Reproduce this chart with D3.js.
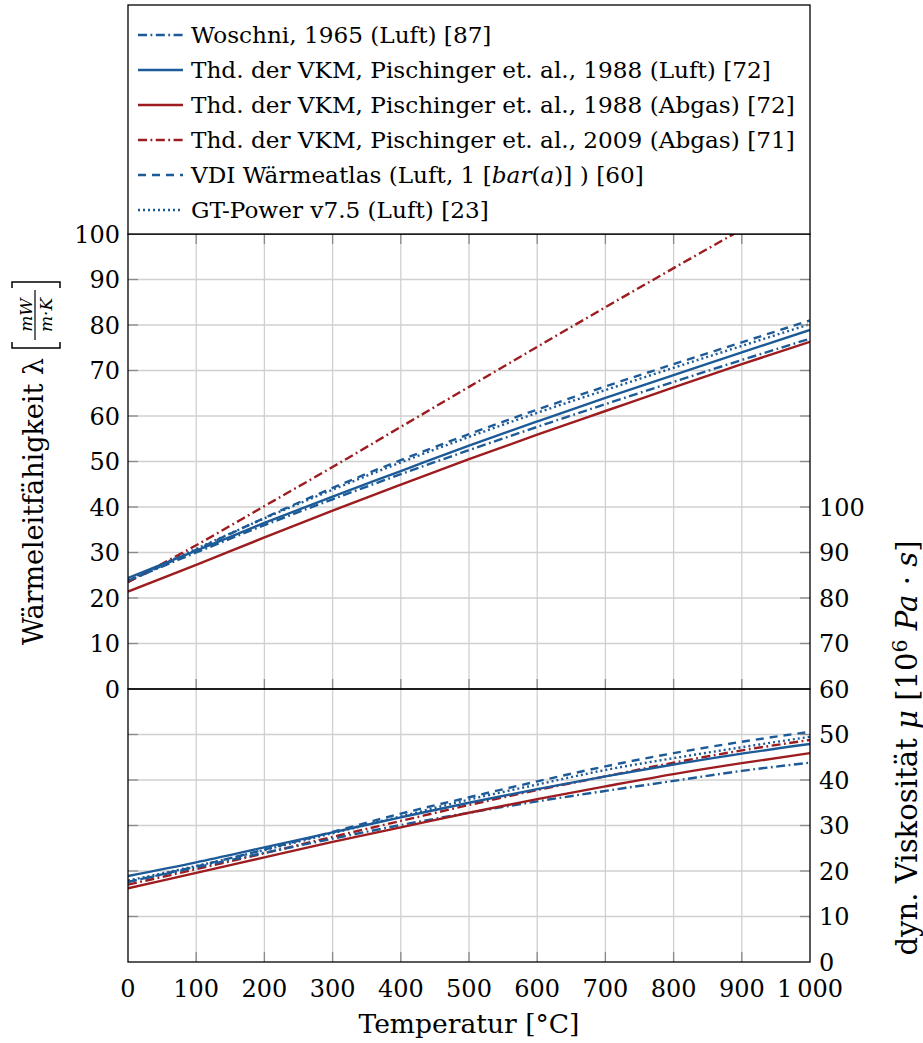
<!DOCTYPE html>
<html>
<head>
<meta charset="utf-8">
<script src="https://cdn.jsdelivr.net/npm/d3@7"></script>
<style>
  body { margin: 0; background: #fff; }
</style>
</head>
<body>
<svg id="chart" width="923" height="1043" font-family="'DejaVu Serif', serif"></svg>
<script>
// temperature grid [°C]
const temps = [0, 100, 200, 300, 400, 500, 600, 700, 800, 900, 1000];

// thermal conductivity [mW/(m K)]
const lambdaWoschni   = [23.8, 30.0, 36.0, 41.7, 47.2, 52.5, 57.6, 62.6, 67.5, 72.3, 77.0];
const lambdaVkmLuft   = [24.4, 30.4, 36.5, 42.3, 47.9, 53.5, 58.8, 64.0, 69.0, 74.0, 78.9];
const lambdaVkmAbgas  = [21.4, 27.3, 33.3, 39.2, 44.9, 50.5, 55.9, 61.1, 66.3, 71.4, 76.3];
const lambdaVkm2009   = [23.5, 31.6, 40.2, 48.8, 57.6, 66.4, 75.2, 83.9, 92.5, 101.0, 109.5];
const lambdaVdi       = [23.6, 30.6, 37.6, 44.2, 50.3, 56.0, 61.4, 66.5, 71.4, 76.2, 81.0];
const lambdaGtPower   = [24.0, 30.8, 37.5, 43.8, 49.8, 55.4, 60.7, 65.7, 70.6, 75.4, 80.2];

// dynamic viscosity [10^6 Pa s]
const muWoschni   = [17.6, 20.8, 24.0, 27.1, 30.1, 32.8, 35.3, 37.6, 39.8, 42.0, 43.8];
const muVkmLuft   = [18.9, 21.9, 25.2, 28.5, 31.8, 35.0, 38.0, 40.8, 43.4, 45.8, 47.9];
const muVkmAbgas  = [16.2, 19.6, 23.0, 26.4, 29.6, 32.8, 35.8, 38.6, 41.3, 43.7, 45.9];
const muVkm2009   = [17.0, 20.4, 23.9, 27.5, 31.0, 34.5, 37.8, 40.8, 43.8, 46.5, 48.8];
const muVdi       = [17.6, 21.0, 24.7, 28.6, 32.6, 36.2, 39.7, 43.0, 45.9, 48.4, 50.6];
const muGtPower   = [17.9, 21.1, 24.6, 28.3, 32.0, 35.7, 39.0, 42.2, 44.8, 47.2, 49.5];

const seriesNames = [
  'Woschni, 1965 (Luft) [87]',
  'Thd. der VKM, Pischinger et. al., 1988 (Luft) [72]',
  'Thd. der VKM, Pischinger et. al., 1988 (Abgas) [72]',
  'Thd. der VKM, Pischinger et. al., 2009 (Abgas) [71]',
  'VDI Wärmeatlas (Luft, 1 [bar(a)] ) [60]',
  'GT-Power v7.5 (Luft) [23]'
];

const tempTicks = [0, 100, 200, 300, 400, 500, 600, 700, 800, 900, 1000];
const tempTickLabels = ['0', '100', '200', '300', '400', '500', '600', '700', '800', '900', '1\u2009000'];
const lambdaTicks = [0, 10, 20, 30, 40, 50, 60, 70, 80, 90, 100];
const muTicks = [0, 10, 20, 30, 40, 50, 60, 70, 80, 90, 100];

// styling (not data)
const blue = '#1c5a98';
const red = '#9c1c1f';
const styles = [
  { color: blue, dash: '9,3.5,1.8,3.5' },
  { color: blue, dash: null },
  { color: red,  dash: null },
  { color: red,  dash: '9,3.5,1.8,3.5' },
  { color: blue, dash: '8,6' },
  { color: blue, dash: '2,3' }
];

const lambdaSeries = [lambdaWoschni, lambdaVkmLuft, lambdaVkmAbgas, lambdaVkm2009, lambdaVdi, lambdaGtPower];
const muSeries = [muWoschni, muVkmLuft, muVkmAbgas, muVkm2009, muVdi, muGtPower];

const svg = d3.select('#chart');
const left = 128, right = 810;
const topUpper = 234, split = 689, bottom = 962;
const tickFont = 24;

const x = d3.scaleLinear().domain([0, 1000]).range([left, right]);
const yLambda = d3.scaleLinear().domain([0, 100]).range([split, topUpper]);
const yMu = d3.scaleLinear().domain([0, 60]).range([bottom, split]);
const yMuLabels = d3.scaleLinear().domain([0, 100]).range([bottom, bottom - (split - topUpper)]);

const gridColor = '#d0d0d0';
const tickColor = '#8a8a8a';

// scale a text's font so it spans the wanted width
function fitWidth(sel, width) {
  const len = sel.node().getComputedTextLength();
  const fs = parseFloat(sel.style('font-size'));
  sel.style('font-size', (fs * width / len).toFixed(2) + 'px');
}

// clip paths
const defs = svg.append('defs');
defs.append('clipPath').attr('id', 'clipUpper').append('rect')
  .attr('x', left).attr('y', topUpper).attr('width', right - left).attr('height', split - topUpper);
defs.append('clipPath').attr('id', 'clipLower').append('rect')
  .attr('x', left).attr('y', split).attr('width', right - left).attr('height', bottom - split);

// grid
const grid = svg.append('g');
tempTicks.slice(1, -1).forEach(t => {
  grid.append('line').attr('x1', x(t)).attr('x2', x(t)).attr('y1', topUpper).attr('y2', bottom)
    .attr('stroke', gridColor).attr('stroke-width', 1.3);
});
lambdaTicks.slice(1, -1).forEach(v => {
  grid.append('line').attr('x1', left).attr('x2', right).attr('y1', yLambda(v)).attr('y2', yLambda(v))
    .attr('stroke', gridColor).attr('stroke-width', 1.3);
});
muTicks.filter(v => v > 0 && v < 60).forEach(v => {
  grid.append('line').attr('x1', left).attr('x2', right).attr('y1', yMu(v)).attr('y2', yMu(v))
    .attr('stroke', gridColor).attr('stroke-width', 1.3);
});

// lines
const lineLambda = d3.line().x((d, i) => x(temps[i])).y(d => yLambda(d)).curve(d3.curveMonotoneX);
const lineMu = d3.line().x((d, i) => x(temps[i])).y(d => yMu(d)).curve(d3.curveMonotoneX);

const drawOrder = [4, 5, 3, 0, 1, 2];
const upper = svg.append('g').attr('clip-path', 'url(#clipUpper)');
const lower = svg.append('g').attr('clip-path', 'url(#clipLower)');
drawOrder.forEach(k => {
  const s = styles[k];
  upper.append('path').attr('d', lineLambda(lambdaSeries[k]))
    .attr('fill', 'none').attr('stroke', s.color).attr('stroke-width', 2.4)
    .attr('stroke-dasharray', s.dash);
  lower.append('path').attr('d', lineMu(muSeries[k]))
    .attr('fill', 'none').attr('stroke', s.color).attr('stroke-width', 2.4)
    .attr('stroke-dasharray', s.dash);
});

// inner ticks
const tl = 10;
const ticks = svg.append('g').attr('stroke', tickColor).attr('stroke-width', 1.3);
tempTicks.slice(1, -1).forEach(t => {
  ticks.append('line').attr('x1', x(t)).attr('x2', x(t)).attr('y1', topUpper).attr('y2', topUpper + tl);
  ticks.append('line').attr('x1', x(t)).attr('x2', x(t)).attr('y1', split).attr('y2', split - tl);
  ticks.append('line').attr('x1', x(t)).attr('x2', x(t)).attr('y1', bottom).attr('y2', bottom - tl);
});
lambdaTicks.slice(1, -1).forEach(v => {
  ticks.append('line').attr('x1', left).attr('x2', left + tl).attr('y1', yLambda(v)).attr('y2', yLambda(v));
  ticks.append('line').attr('x1', right).attr('x2', right - tl).attr('y1', yLambda(v)).attr('y2', yLambda(v));
});
muTicks.filter(v => v > 0 && v < 60).forEach(v => {
  ticks.append('line').attr('x1', left).attr('x2', left + tl).attr('y1', yMu(v)).attr('y2', yMu(v));
  ticks.append('line').attr('x1', right).attr('x2', right - tl).attr('y1', yMu(v)).attr('y2', yMu(v));
});

// frames
svg.append('rect').attr('x', left).attr('y', topUpper).attr('width', right - left).attr('height', split - topUpper)
  .attr('fill', 'none').attr('stroke', '#000').attr('stroke-width', 1.3);
svg.append('rect').attr('x', left).attr('y', split).attr('width', right - left).attr('height', bottom - split)
  .attr('fill', 'none').attr('stroke', '#000').attr('stroke-width', 1.3);

// tick labels
const labels = svg.append('g').style('font-size', tickFont + 'px');
lambdaTicks.forEach(v => {
  labels.append('text').attr('x', left - 8).attr('y', yLambda(v)).attr('dy', '0.36em')
    .attr('text-anchor', 'end').text(v);
});
muTicks.forEach(v => {
  labels.append('text').attr('x', right + 9).attr('y', yMuLabels(v)).attr('dy', '0.36em')
    .attr('text-anchor', 'start').text(v);
});
tempTicks.forEach((t, i) => {
  labels.append('text').attr('x', x(t)).attr('y', bottom + 35)
    .attr('text-anchor', 'middle').text(tempTickLabels[i]);
});

// x title
const xt = svg.append('text').attr('x', (left + right) / 2).attr('y', 1033)
  .attr('text-anchor', 'middle').style('font-size', tickFont + 'px').text('Temperatur [°C]');
fitWidth(xt, 221);

// left y title
const ly = svg.append('g').attr('transform', 'translate(43,645) rotate(-90)');
const lt = ly.append('text').attr('x', 0).attr('y', 0).style('font-size', tickFont + 'px')
  .text('Wärmeleitfähigkeit λ');
fitWidth(lt, 287);
const L = lt.node().getComputedTextLength();
const bx0 = L + 10, bx1 = L + 76;
ly.append('path').attr('d', `M${bx0 + 6},-31 H${bx0} V17 H${bx0 + 6}`)
  .attr('fill', 'none').attr('stroke', '#000').attr('stroke-width', 1.5);
ly.append('path').attr('d', `M${bx1 - 6},-31 H${bx1} V17 H${bx1 - 6}`)
  .attr('fill', 'none').attr('stroke', '#000').attr('stroke-width', 1.5);
ly.append('line').attr('x1', bx0 + 8).attr('x2', bx1 - 8).attr('y1', -8).attr('y2', -8)
  .attr('stroke', '#000').attr('stroke-width', 1.2);
ly.append('text').attr('x', (bx0 + bx1) / 2).attr('y', -11).attr('text-anchor', 'middle')
  .style('font-size', '17px').style('font-style', 'italic').text('mW');
ly.append('text').attr('x', (bx0 + bx1) / 2).attr('y', 9).attr('text-anchor', 'middle')
  .style('font-size', '17px').style('font-style', 'italic').text('m·K');

// right y title
const ry = svg.append('text')
  .attr('transform', 'translate(917,748) rotate(-90)')
  .attr('text-anchor', 'middle').style('font-size', tickFont + 'px');
ry.append('tspan').text('dyn. Viskosität ');
ry.append('tspan').style('font-style', 'italic').text('μ');
ry.append('tspan').text(' [10');
ry.append('tspan').attr('dy', -10).style('font-size', '0.7em').text('6');
ry.append('tspan').attr('dy', 10).text(' ');
ry.append('tspan').style('font-style', 'italic').text('Pa');
ry.append('tspan').text(' · ');
ry.append('tspan').style('font-style', 'italic').text('s');
ry.append('tspan').text(']');
fitWidth(ry, 415);

// legend
const legend = svg.append('g');
legend.append('rect').attr('x', left).attr('y', 5).attr('width', right - left).attr('height', topUpper - 5)
  .attr('fill', '#fff').attr('stroke', '#000').attr('stroke-width', 1.3);
const legendTexts = [];
seriesNames.forEach((name, i) => {
  const yy = 35 + i * 35;
  const s = styles[i];
  legend.append('line').attr('x1', 138).attr('x2', 183).attr('y1', yy).attr('y2', yy)
    .attr('stroke', s.color).attr('stroke-width', 2.4).attr('stroke-dasharray', s.dash);
  const t = legend.append('text').attr('x', 191).attr('y', yy).attr('dy', '0.36em')
    .style('font-size', tickFont + 'px');
  if (i === 4) {
    t.append('tspan').text('VDI Wärmeatlas (Luft, 1 [');
    t.append('tspan').style('font-style', 'italic').text('bar');
    t.append('tspan').text('(');
    t.append('tspan').style('font-style', 'italic').text('a');
    t.append('tspan').text(')] ) [60]');
  } else {
    t.text(name);
  }
  legendTexts.push(t);
});
// common legend font size so the longest entry spans the reference width
const widest = d3.max(legendTexts, t => t.node().getComputedTextLength());
const legendFont = (tickFont * 604 / widest).toFixed(2);
legendTexts.forEach(t => t.style('font-size', legendFont + 'px'));
</script>
</body>
</html>
